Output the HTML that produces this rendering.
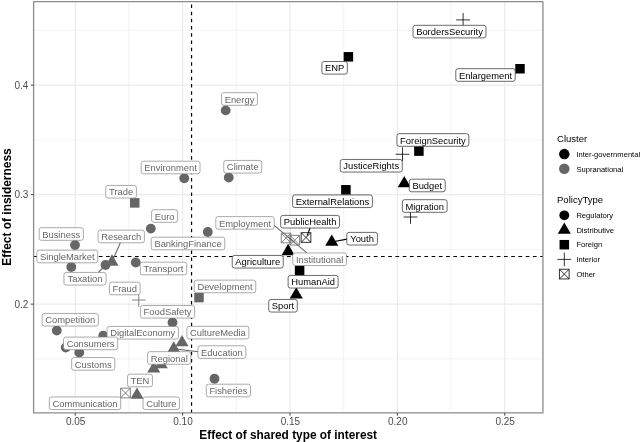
<!DOCTYPE html>
<html lang="en"><head><meta charset="utf-8"><title>Effect of insiderness vs shared type of interest</title>
<style>html,body{margin:0;padding:0;background:#fff;overflow:hidden}svg{display:block;will-change:transform}text{white-space:pre}</style></head>
<body>
<svg width="640" height="442" viewBox="0 0 640 442" font-family='"Liberation Sans", sans-serif'>
<rect x="0" y="0" width="640" height="442" fill="#ffffff"/>
<g stroke="#ebebeb" fill="none">
<line x1="128.94" y1="1.55" x2="128.94" y2="412.9" stroke-width="0.6"/>
<line x1="236.31" y1="1.55" x2="236.31" y2="412.9" stroke-width="0.6"/>
<line x1="343.69" y1="1.55" x2="343.69" y2="412.9" stroke-width="0.6"/>
<line x1="451.06" y1="1.55" x2="451.06" y2="412.9" stroke-width="0.6"/>
<line x1="33.6" y1="30.40" x2="542.95" y2="30.40" stroke-width="0.6"/>
<line x1="33.6" y1="139.90" x2="542.95" y2="139.90" stroke-width="0.6"/>
<line x1="33.6" y1="249.40" x2="542.95" y2="249.40" stroke-width="0.6"/>
<line x1="33.6" y1="358.90" x2="542.95" y2="358.90" stroke-width="0.6"/>
<line x1="75.25" y1="1.55" x2="75.25" y2="412.9" stroke-width="1.2"/>
<line x1="182.62" y1="1.55" x2="182.62" y2="412.9" stroke-width="1.2"/>
<line x1="290.00" y1="1.55" x2="290.00" y2="412.9" stroke-width="1.2"/>
<line x1="397.38" y1="1.55" x2="397.38" y2="412.9" stroke-width="1.2"/>
<line x1="504.75" y1="1.55" x2="504.75" y2="412.9" stroke-width="1.2"/>
<line x1="33.6" y1="85.15" x2="542.95" y2="85.15" stroke-width="1.2"/>
<line x1="33.6" y1="194.65" x2="542.95" y2="194.65" stroke-width="1.2"/>
<line x1="33.6" y1="304.15" x2="542.95" y2="304.15" stroke-width="1.2"/>
</g>
<path d="M33.7,256.45 L542.95,256.45" stroke="#000" stroke-width="1.1" stroke-dasharray="3.7 3.535" fill="none"/>
<path d="M191.55,413.05 L191.55,1.55" stroke="#000" stroke-width="1.2" stroke-dasharray="3.5 3.735" fill="none"/>
<g clip-path="url(#pc)">
<defs><clipPath id="pc"><rect x="33.6" y="1.55" width="509.35" height="411.34999999999997"/></clipPath></defs>
<path d="M456.24,19.90H469.96M463.10,13.04V26.76" stroke="#000000" stroke-width="0.8" fill="none"/>
<rect x="343.65" y="52.05" width="9.50" height="9.50" fill="#000000"/>
<rect x="515.25" y="64.00" width="9.50" height="9.50" fill="#000000"/>
<circle cx="225.70" cy="110.40" r="4.9" fill="#666666"/>
<rect x="414.15" y="146.35" width="9.50" height="9.50" fill="#000000"/>
<path d="M395.64,154.25H409.36M402.50,147.39V161.11" stroke="#000000" stroke-width="0.8" fill="none"/>
<polygon points="404.25,176.06 410.78,187.37 397.72,187.37" fill="#000000"/>
<path d="M403.64,217.00H417.36M410.50,210.14V223.86" stroke="#000000" stroke-width="0.8" fill="none"/>
<rect x="341.15" y="185.00" width="9.50" height="9.50" fill="#000000"/>
<circle cx="184.25" cy="178.25" r="4.9" fill="#666666"/>
<circle cx="228.75" cy="177.50" r="4.9" fill="#666666"/>
<rect x="130.00" y="198.15" width="9.50" height="9.50" fill="#666666"/>
<circle cx="150.80" cy="228.60" r="4.9" fill="#666666"/>
<circle cx="75.00" cy="245.00" r="4.9" fill="#666666"/>
<polygon points="112.00,254.36 118.53,265.67 105.47,265.67" fill="#666666"/>
<circle cx="71.25" cy="267.00" r="4.9" fill="#666666"/>
<circle cx="105.50" cy="265.00" r="4.9" fill="#666666"/>
<circle cx="135.75" cy="262.50" r="4.9" fill="#666666"/>
<circle cx="207.80" cy="232.00" r="4.9" fill="#666666"/>
<path d="M281.25,233.15H290.95V242.85H281.25Z M281.25,233.15L290.95,242.85M281.25,242.85L290.95,233.15" stroke="#666666" stroke-width="0.8" fill="none"/>
<path d="M301.15,232.65H310.85V242.35H301.15Z M301.15,232.65L310.85,242.35M301.15,242.35L310.85,232.65" stroke="#000000" stroke-width="0.8" fill="none"/>
<polygon points="331.75,234.46 338.28,245.77 325.22,245.77" fill="#000000"/>
<polygon points="288.10,243.86 294.63,255.17 281.57,255.17" fill="#000000"/>
<path d="M289.90,235.35H299.60V245.05H289.90Z M289.90,235.35L299.60,245.05M289.90,245.05L299.60,235.35" stroke="#666666" stroke-width="0.8" fill="none"/>
<rect x="294.85" y="265.65" width="9.50" height="9.50" fill="#000000"/>
<polygon points="296.25,287.31 302.78,298.62 289.72,298.62" fill="#000000"/>
<rect x="194.25" y="292.85" width="9.50" height="9.50" fill="#666666"/>
<path d="M131.89,300.00H145.61M138.75,293.14V306.86" stroke="#666666" stroke-width="0.8" fill="none"/>
<circle cx="172.50" cy="322.50" r="4.9" fill="#666666"/>
<circle cx="56.75" cy="330.50" r="4.9" fill="#666666"/>
<circle cx="103.25" cy="335.75" r="4.9" fill="#666666"/>
<polygon points="182.00,335.06 188.53,346.37 175.47,346.37" fill="#666666"/>
<circle cx="65.75" cy="347.50" r="4.9" fill="#666666"/>
<polygon points="173.75,341.16 180.28,352.47 167.22,352.47" fill="#666666"/>
<circle cx="79.25" cy="352.50" r="4.9" fill="#666666"/>
<polygon points="161.25,356.96 167.78,368.27 154.72,368.27" fill="#666666"/>
<polygon points="153.75,361.26 160.28,372.57 147.22,372.57" fill="#666666"/>
<path d="M120.65,388.15H130.35V397.85H120.65Z M120.65,388.15L130.35,397.85M120.65,397.85L130.35,388.15" stroke="#666666" stroke-width="0.8" fill="none"/>
<polygon points="137.00,387.56 143.53,398.87 130.47,398.87" fill="#666666"/>
<circle cx="214.50" cy="378.75" r="4.9" fill="#666666"/>
<rect x="413.02" y="25.30" width="72.96" height="12.6" rx="2.2" ry="2.2" fill="#fff" stroke="#1a1a1a" stroke-width="0.65"/>
<text x="449.50" y="35.20" font-size="9.4" text-anchor="middle" fill="#000000">BordersSecurity</text>
<rect x="321.89" y="61.50" width="25.43" height="12.6" rx="2.2" ry="2.2" fill="#fff" stroke="#1a1a1a" stroke-width="0.65"/>
<text x="334.60" y="71.40" font-size="9.4" text-anchor="middle" fill="#000000">ENP</text>
<rect x="455.81" y="68.70" width="59.39" height="12.6" rx="2.2" ry="2.2" fill="#fff" stroke="#1a1a1a" stroke-width="0.65"/>
<text x="485.50" y="78.60" font-size="9.4" text-anchor="middle" fill="#000000">Enlargement</text>
<rect x="221.56" y="92.70" width="35.88" height="12.6" rx="2.2" ry="2.2" fill="#fff" stroke="#7d7d7d" stroke-width="0.65"/>
<text x="239.50" y="102.60" font-size="9.4" text-anchor="middle" fill="#666666">Energy</text>
<rect x="396.94" y="133.70" width="71.92" height="12.6" rx="2.2" ry="2.2" fill="#fff" stroke="#1a1a1a" stroke-width="0.65"/>
<text x="432.90" y="143.60" font-size="9.4" text-anchor="middle" fill="#000000">ForeignSecurity</text>
<rect x="340.25" y="159.45" width="61.99" height="12.6" rx="2.2" ry="2.2" fill="#fff" stroke="#1a1a1a" stroke-width="0.65"/>
<text x="371.25" y="169.35" font-size="9.4" text-anchor="middle" fill="#000000">JusticeRights</text>
<rect x="409.31" y="179.20" width="35.89" height="12.6" rx="2.2" ry="2.2" fill="#fff" stroke="#1a1a1a" stroke-width="0.65"/>
<text x="427.25" y="189.10" font-size="9.4" text-anchor="middle" fill="#000000">Budget</text>
<rect x="402.37" y="199.70" width="44.75" height="12.6" rx="2.2" ry="2.2" fill="#fff" stroke="#1a1a1a" stroke-width="0.65"/>
<text x="424.75" y="209.60" font-size="9.4" text-anchor="middle" fill="#000000">Migration</text>
<rect x="292.62" y="194.95" width="79.76" height="12.6" rx="2.2" ry="2.2" fill="#fff" stroke="#1a1a1a" stroke-width="0.65"/>
<text x="332.50" y="204.85" font-size="9.4" text-anchor="middle" fill="#000000">ExternalRelations</text>
<rect x="141.17" y="161.20" width="58.86" height="12.6" rx="2.2" ry="2.2" fill="#fff" stroke="#7d7d7d" stroke-width="0.65"/>
<text x="170.60" y="171.10" font-size="9.4" text-anchor="middle" fill="#666666">Environment</text>
<rect x="223.77" y="160.45" width="37.96" height="12.6" rx="2.2" ry="2.2" fill="#fff" stroke="#7d7d7d" stroke-width="0.65"/>
<text x="242.75" y="170.35" font-size="9.4" text-anchor="middle" fill="#666666">Climate</text>
<rect x="105.77" y="185.45" width="30.65" height="12.6" rx="2.2" ry="2.2" fill="#fff" stroke="#7d7d7d" stroke-width="0.65"/>
<text x="121.10" y="195.35" font-size="9.4" text-anchor="middle" fill="#666666">Trade</text>
<rect x="151.62" y="209.70" width="25.95" height="12.6" rx="2.2" ry="2.2" fill="#fff" stroke="#7d7d7d" stroke-width="0.65"/>
<text x="164.60" y="219.60" font-size="9.4" text-anchor="middle" fill="#666666">Euro</text>
<rect x="39.13" y="227.70" width="44.24" height="12.6" rx="2.2" ry="2.2" fill="#fff" stroke="#7d7d7d" stroke-width="0.65"/>
<text x="61.25" y="237.60" font-size="9.4" text-anchor="middle" fill="#666666">Business</text>
<line x1="120.4" y1="242.6" x2="112.0" y2="261.9" stroke="#666666" stroke-width="1.1"/>
<rect x="98.09" y="230.20" width="46.32" height="12.6" rx="2.2" ry="2.2" fill="#fff" stroke="#7d7d7d" stroke-width="0.65"/>
<text x="121.25" y="240.10" font-size="9.4" text-anchor="middle" fill="#666666">Research</text>
<rect x="36.78" y="250.20" width="60.95" height="12.6" rx="2.2" ry="2.2" fill="#fff" stroke="#7d7d7d" stroke-width="0.65"/>
<text x="67.25" y="260.10" font-size="9.4" text-anchor="middle" fill="#666666">SingleMarket</text>
<line x1="98.2" y1="272.7" x2="105.5" y2="265.0" stroke="#666666" stroke-width="1.1"/>
<rect x="63.93" y="272.45" width="42.15" height="12.6" rx="2.2" ry="2.2" fill="#fff" stroke="#7d7d7d" stroke-width="0.65"/>
<text x="85.00" y="282.35" font-size="9.4" text-anchor="middle" fill="#666666">Taxation</text>
<rect x="140.34" y="262.20" width="46.32" height="12.6" rx="2.2" ry="2.2" fill="#fff" stroke="#7d7d7d" stroke-width="0.65"/>
<text x="163.50" y="272.10" font-size="9.4" text-anchor="middle" fill="#666666">Transport</text>
<rect x="151.25" y="237.20" width="73.50" height="12.6" rx="2.2" ry="2.2" fill="#fff" stroke="#7d7d7d" stroke-width="0.65"/>
<text x="188.00" y="247.10" font-size="9.4" text-anchor="middle" fill="#666666">BankingFinance</text>
<line x1="273.9" y1="225.2" x2="294.75" y2="242.7" stroke="#666666" stroke-width="1.1"/>
<rect x="215.83" y="216.60" width="58.34" height="12.6" rx="2.2" ry="2.2" fill="#fff" stroke="#7d7d7d" stroke-width="0.65"/>
<text x="245.00" y="226.50" font-size="9.4" text-anchor="middle" fill="#666666">Employment</text>
<line x1="310.0" y1="228.2" x2="307.1" y2="235.6" stroke="#000000" stroke-width="1.1"/>
<rect x="280.67" y="215.40" width="58.86" height="12.6" rx="2.2" ry="2.2" fill="#fff" stroke="#1a1a1a" stroke-width="0.65"/>
<text x="310.10" y="225.30" font-size="9.4" text-anchor="middle" fill="#000000">PublicHealth</text>
<line x1="347.0" y1="239.1" x2="331.75" y2="242.0" stroke="#000000" stroke-width="1.1"/>
<rect x="346.77" y="232.40" width="30.66" height="12.6" rx="2.2" ry="2.2" fill="#fff" stroke="#1a1a1a" stroke-width="0.65"/>
<text x="362.10" y="242.30" font-size="9.4" text-anchor="middle" fill="#000000">Youth</text>
<rect x="232.24" y="255.45" width="51.02" height="12.6" rx="2.2" ry="2.2" fill="#fff" stroke="#1a1a1a" stroke-width="0.65"/>
<text x="257.75" y="265.35" font-size="9.4" text-anchor="middle" fill="#000000">Agriculture</text>
<line x1="306.9" y1="252.9" x2="286.1" y2="235.4" stroke="#666666" stroke-width="1.1"/>
<rect x="292.78" y="252.95" width="53.65" height="12.6" rx="2.2" ry="2.2" fill="#fff" stroke="#7d7d7d" stroke-width="0.65"/>
<text x="319.60" y="262.85" font-size="9.4" text-anchor="middle" fill="#666666">Institutional</text>
<rect x="288.11" y="275.45" width="49.98" height="12.6" rx="2.2" ry="2.2" fill="#fff" stroke="#1a1a1a" stroke-width="0.65"/>
<text x="313.10" y="285.35" font-size="9.4" text-anchor="middle" fill="#000000">HumanAid</text>
<rect x="268.72" y="299.45" width="28.57" height="12.6" rx="2.2" ry="2.2" fill="#fff" stroke="#1a1a1a" stroke-width="0.65"/>
<text x="283.00" y="309.35" font-size="9.4" text-anchor="middle" fill="#000000">Sport</text>
<rect x="194.26" y="280.15" width="61.48" height="12.6" rx="2.2" ry="2.2" fill="#fff" stroke="#7d7d7d" stroke-width="0.65"/>
<text x="225.00" y="290.05" font-size="9.4" text-anchor="middle" fill="#666666">Development</text>
<rect x="109.42" y="282.20" width="30.65" height="12.6" rx="2.2" ry="2.2" fill="#fff" stroke="#7d7d7d" stroke-width="0.65"/>
<text x="124.75" y="292.10" font-size="9.4" text-anchor="middle" fill="#666666">Fraud</text>
<rect x="140.41" y="305.50" width="54.17" height="12.6" rx="2.2" ry="2.2" fill="#fff" stroke="#7d7d7d" stroke-width="0.65"/>
<text x="167.50" y="315.40" font-size="9.4" text-anchor="middle" fill="#666666">FoodSafety</text>
<rect x="42.13" y="313.45" width="56.25" height="12.6" rx="2.2" ry="2.2" fill="#fff" stroke="#7d7d7d" stroke-width="0.65"/>
<text x="70.25" y="323.35" font-size="9.4" text-anchor="middle" fill="#666666">Competition</text>
<rect x="107.05" y="326.45" width="71.39" height="12.6" rx="2.2" ry="2.2" fill="#fff" stroke="#7d7d7d" stroke-width="0.65"/>
<text x="142.75" y="336.35" font-size="9.4" text-anchor="middle" fill="#666666">DigitalEconomy</text>
<rect x="186.90" y="326.30" width="61.99" height="12.6" rx="2.2" ry="2.2" fill="#fff" stroke="#7d7d7d" stroke-width="0.65"/>
<text x="217.90" y="336.20" font-size="9.4" text-anchor="middle" fill="#666666">CultureMedia</text>
<rect x="63.52" y="337.10" width="54.15" height="12.6" rx="2.2" ry="2.2" fill="#fff" stroke="#7d7d7d" stroke-width="0.65"/>
<text x="90.60" y="347.00" font-size="9.4" text-anchor="middle" fill="#666666">Consumers</text>
<line x1="198.3" y1="351.8" x2="173.75" y2="348.7" stroke="#666666" stroke-width="1.1"/>
<rect x="197.95" y="345.80" width="47.90" height="12.6" rx="2.2" ry="2.2" fill="#fff" stroke="#7d7d7d" stroke-width="0.65"/>
<text x="221.90" y="355.70" font-size="9.4" text-anchor="middle" fill="#666666">Education</text>
<rect x="71.66" y="357.60" width="43.18" height="12.6" rx="2.2" ry="2.2" fill="#fff" stroke="#7d7d7d" stroke-width="0.65"/>
<text x="93.25" y="367.50" font-size="9.4" text-anchor="middle" fill="#666666">Customs</text>
<rect x="147.65" y="351.70" width="43.19" height="12.6" rx="2.2" ry="2.2" fill="#fff" stroke="#7d7d7d" stroke-width="0.65"/>
<text x="169.25" y="361.60" font-size="9.4" text-anchor="middle" fill="#666666">Regional</text>
<rect x="127.55" y="374.20" width="24.90" height="12.6" rx="2.2" ry="2.2" fill="#fff" stroke="#7d7d7d" stroke-width="0.65"/>
<text x="140.00" y="384.10" font-size="9.4" text-anchor="middle" fill="#666666">TEN</text>
<rect x="49.30" y="396.95" width="71.39" height="12.6" rx="2.2" ry="2.2" fill="#fff" stroke="#7d7d7d" stroke-width="0.65"/>
<text x="85.00" y="406.85" font-size="9.4" text-anchor="middle" fill="#666666">Communication</text>
<rect x="143.05" y="396.95" width="36.40" height="12.6" rx="2.2" ry="2.2" fill="#fff" stroke="#7d7d7d" stroke-width="0.65"/>
<text x="161.25" y="406.85" font-size="9.4" text-anchor="middle" fill="#666666">Culture</text>
<rect x="206.29" y="384.20" width="44.23" height="12.6" rx="2.2" ry="2.2" fill="#fff" stroke="#7d7d7d" stroke-width="0.65"/>
<text x="228.40" y="394.10" font-size="9.4" text-anchor="middle" fill="#666666">Fisheries</text>
</g>
<rect x="33.6" y="1.55" width="509.35" height="411.34999999999997" fill="none" stroke="#8c8c8c" stroke-width="1.3" stroke-linejoin="round"/>
<line x1="75.25" y1="412.9" x2="75.25" y2="415.7" stroke="#333" stroke-width="0.9"/>
<text x="75.65" y="425.0" font-size="10" text-anchor="middle" fill="#4d4d4d">0.05</text>
<line x1="182.62" y1="412.9" x2="182.62" y2="415.7" stroke="#333" stroke-width="0.9"/>
<text x="183.03" y="425.0" font-size="10" text-anchor="middle" fill="#4d4d4d">0.10</text>
<line x1="290.00" y1="412.9" x2="290.00" y2="415.7" stroke="#333" stroke-width="0.9"/>
<text x="290.40" y="425.0" font-size="10" text-anchor="middle" fill="#4d4d4d">0.15</text>
<line x1="397.38" y1="412.9" x2="397.38" y2="415.7" stroke="#333" stroke-width="0.9"/>
<text x="397.78" y="425.0" font-size="10" text-anchor="middle" fill="#4d4d4d">0.20</text>
<line x1="504.75" y1="412.9" x2="504.75" y2="415.7" stroke="#333" stroke-width="0.9"/>
<text x="505.15" y="425.0" font-size="10" text-anchor="middle" fill="#4d4d4d">0.25</text>
<line x1="30.8" y1="85.15" x2="33.6" y2="85.15" stroke="#333" stroke-width="0.9"/>
<text x="28.4" y="88.90" font-size="10" text-anchor="end" fill="#4d4d4d">0.4</text>
<line x1="30.8" y1="194.65" x2="33.6" y2="194.65" stroke="#333" stroke-width="0.9"/>
<text x="28.4" y="198.40" font-size="10" text-anchor="end" fill="#4d4d4d">0.3</text>
<line x1="30.8" y1="304.15" x2="33.6" y2="304.15" stroke="#333" stroke-width="0.9"/>
<text x="28.4" y="307.90" font-size="10" text-anchor="end" fill="#4d4d4d">0.2</text>
<text x="288.2" y="438.6" font-size="11.85" font-weight="bold" text-anchor="middle" fill="#000">Effect of shared type of interest</text>
<text transform="translate(11.2,207) rotate(-90)" font-size="11.95" font-weight="bold" text-anchor="middle" fill="#000">Effect of insiderness</text>
<text x="557.0" y="141.5" font-size="9.55" fill="#000">Cluster</text>
<circle cx="564.30" cy="154.10" r="5.25" fill="#000"/>
<text x="576.4" y="156.8" font-size="7.6" fill="#000">Inter-governmental</text>
<circle cx="564.30" cy="168.80" r="5.25" fill="#666666"/>
<text x="576.4" y="171.5" font-size="7.6" fill="#000">Supranational</text>
<text x="557.0" y="202.9" font-size="9.55" fill="#000">PolicyType</text>
<circle cx="564.30" cy="215.30" r="4.9" fill="#000"/>
<text x="576.4" y="218.00" font-size="7.6" fill="#000">Regulatory</text>
<polygon points="564.30,222.46 570.83,233.77 557.77,233.77" fill="#000"/>
<text x="576.4" y="232.70" font-size="7.6" fill="#000">Distributive</text>
<rect x="559.55" y="239.95" width="9.50" height="9.50" fill="#000"/>
<text x="576.4" y="247.40" font-size="7.6" fill="#000">Foreign</text>
<path d="M557.44,259.40H571.16M564.30,252.54V266.26" stroke="#000" stroke-width="0.8" fill="none"/>
<text x="576.4" y="262.10" font-size="7.6" fill="#000">Interior</text>
<path d="M559.45,269.25H569.15V278.95H559.45Z M559.45,269.25L569.15,278.95M559.45,278.95L569.15,269.25" stroke="#000" stroke-width="0.8" fill="none"/>
<text x="576.4" y="276.80" font-size="7.6" fill="#000">Other</text>
</svg>
</body></html>
